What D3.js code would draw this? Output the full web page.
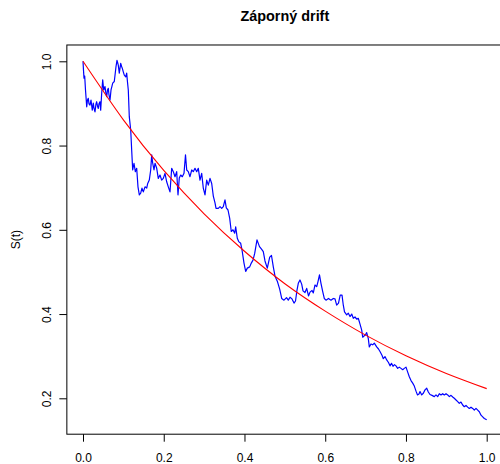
<!DOCTYPE html>
<html>
<head>
<meta charset="utf-8">
<script src="https://cdn.jsdelivr.net/npm/d3@7"></script>
<style>
  html, body { margin: 0; padding: 0; background: #fff; }
  svg { display: block; font-family: "Liberation Sans", Arial, Helvetica, sans-serif; }
</style>
</head>
<body>
<svg id="chart" width="500" height="464"></svg>
<script>
// Simulated path S(t) with negative drift
const pathT = [0,0.0012,0.0025,0.0042,0.0062,0.0092,0.0111,0.0131,0.0149,0.0173,0.0198,0.0230,0.0255,0.0272,0.0297,0.0322,0.0339,0.0359,0.0379,0.0396,
  0.0421,0.0438,0.0463,0.0488,0.0513,0.0545,0.0570,0.0587,0.0607,0.0627,0.0644,0.0669,0.0694,0.0718,0.0736,0.0775,0.0793,0.0817,0.0842,0.0860,
  0.0874,0.0899,0.0917,0.0934,0.0959,0.0978,0.0998,0.1023,0.1058,0.1082,0.1102,0.1122,0.1147,0.1182,0.1206,0.1231,0.1263,0.1296,0.1330,0.1362,
  0.1395,0.1429,0.1461,0.1494,0.1536,0.1578,0.1603,0.1642,0.1677,0.1702,0.1727,0.1759,0.1784,0.1826,0.1865,0.1907,0.1949,0.1989,0.2031,0.2073,
  0.2113,0.2155,0.2197,0.2237,0.2279,0.2321,0.2353,0.2385,0.2420,0.2460,0.2502,0.2539,0.2569,0.2608,0.2650,0.2693,0.2732,0.2774,0.2816,0.2856,
  0.2898,0.2940,0.2980,0.3022,0.3064,0.3104,0.3146,0.3188,0.3228,0.3270,0.3295,0.3351,0.3394,0.3436,0.3475,0.3517,0.3550,0.3592,0.3634,0.3673,
  0.3716,0.3758,0.3782,0.3822,0.3857,0.3906,0.3939,0.3988,0.4030,0.4070,0.4129,0.4169,0.4211,0.4253,0.4310,0.4372,0.4422,0.4466,0.4508,0.4565,
  0.4625,0.4669,0.4714,0.4756,0.4813,0.4872,0.4922,0.4979,0.5041,0.5085,0.5128,0.5177,0.5227,0.5264,0.5301,0.5333,0.5375,0.5417,0.5450,0.5499,
  0.5541,0.5586,0.5623,0.5673,0.5705,0.5747,0.5789,0.5821,0.5858,0.5895,0.5938,0.5977,0.6019,0.6081,0.6143,0.6200,0.6242,0.6284,0.6329,0.6371,
  0.6416,0.6448,0.6478,0.6532,0.6572,0.6614,0.6656,0.6696,0.6738,0.6780,0.6819,0.6862,0.6904,0.6928,0.6961,0.6993,0.7027,0.7067,0.7092,0.7134,
  0.7176,0.7216,0.7275,0.7320,0.7357,0.7406,0.7439,0.7481,0.7523,0.7567,0.7605,0.7642,0.7679,0.7716,0.7753,0.7795,0.7835,0.7877,0.7919,0.7959,
  0.8001,0.8043,0.8083,0.8125,0.8167,0.8207,0.8249,0.8286,0.8323,0.8348,0.8390,0.8430,0.8472,0.8514,0.8554,0.8596,0.8645,0.8702,0.8744,0.8786,
  0.8826,0.8868,0.8910,0.8950,0.8992,0.9034,0.9074,0.9116,0.9158,0.9197,0.9240,0.9282,0.9321,0.9363,0.9405,0.9445,0.9487,0.9529,0.9569,0.9611,
  0.9653,0.9693,0.9735,0.9777,0.9817,0.9859,0.9901,0.9941,1.0000];

const pathS = [1.000,0.979,0.960,0.965,0.932,0.892,0.908,0.912,0.899,0.896,0.908,0.884,0.901,0.889,0.880,0.899,0.904,0.894,0.888,0.899,
  0.904,0.884,0.924,0.956,0.932,0.940,0.922,0.916,0.932,0.936,0.920,0.908,0.932,0.941,0.948,0.952,0.967,0.987,1.002,0.996,
  0.991,0.972,0.984,0.995,0.987,0.982,0.975,0.967,0.963,0.972,0.951,0.932,0.868,0.837,0.789,0.742,0.758,0.738,0.746,0.702,
  0.683,0.687,0.699,0.690,0.702,0.699,0.710,0.718,0.742,0.778,0.758,0.742,0.758,0.746,0.722,0.730,0.718,0.722,0.734,0.714,
  0.702,0.690,0.746,0.738,0.726,0.738,0.683,0.723,0.730,0.726,0.734,0.778,0.742,0.738,0.726,0.742,0.738,0.746,0.738,0.746,
  0.718,0.734,0.699,0.683,0.718,0.706,0.722,0.710,0.680,0.664,0.651,0.651,0.655,0.651,0.655,0.671,0.652,0.647,0.627,0.596,
  0.600,0.592,0.607,0.580,0.572,0.568,0.552,0.521,0.501,0.509,0.512,0.521,0.528,0.544,0.576,0.560,0.554,0.548,0.526,0.509,
  0.535,0.539,0.512,0.490,0.478,0.459,0.437,0.433,0.439,0.433,0.440,0.436,0.426,0.431,0.457,0.473,0.481,0.471,0.455,0.451,
  0.461,0.443,0.452,0.456,0.450,0.469,0.465,0.477,0.493,0.473,0.453,0.437,0.433,0.437,0.433,0.437,0.436,0.421,0.426,0.445,
  0.445,0.421,0.405,0.398,0.402,0.394,0.400,0.390,0.393,0.388,0.390,0.376,0.362,0.345,0.348,0.350,0.356,0.342,0.322,0.329,
  0.327,0.331,0.322,0.317,0.311,0.302,0.294,0.299,0.291,0.285,0.277,0.283,0.276,0.280,0.277,0.271,0.274,0.271,0.268,0.271,
  0.274,0.262,0.251,0.242,0.236,0.229,0.217,0.208,0.210,0.216,0.208,0.212,0.220,0.224,0.215,0.209,0.207,0.204,0.208,0.204,
  0.211,0.208,0.211,0.208,0.211,0.208,0.204,0.207,0.203,0.200,0.196,0.192,0.188,0.191,0.184,0.180,0.183,0.179,0.176,0.179,
  0.176,0.172,0.176,0.172,0.168,0.160,0.156,0.152,0.149];

// Expected value E[S(t)]
const meanT = [0.0, 0.1, 0.2, 0.3, 0.4, 0.5, 0.6, 0.7, 0.8, 0.9, 1.0];
const meanS = [1.000, 0.861, 0.741, 0.638, 0.549, 0.472, 0.407, 0.350, 0.301, 0.259, 0.223];

const xTicks = [0.0, 0.2, 0.4, 0.6, 0.8, 1.0];
const yTicks = [0.2, 0.4, 0.6, 0.8, 1.0];

const chartTitle = "Záporný drift";
const yTitle = "S(t)";

const svg = d3.select("#chart");

const x = d3.scaleLinear().domain([0, 1]).range([83, 486.7]);
const y = d3.scaleLinear().domain([0.2, 1.0]).range([398.3, 61.3]);

// plot region extends 4% beyond the data on each side
const x0 = x(-0.04), x1 = x(1.04);
const yTop = y(1.0045 + 0.04 * 0.8555), yBot = y(0.149 - 0.04 * 0.8555);

const fmt = d3.format(".1f");

// x axis
const xAxis = d3.axisBottom(x).tickValues(xTicks).tickFormat(fmt).tickSize(7.5).tickPadding(4);
const gx = svg.append("g").attr("transform", `translate(0,${yBot})`).call(xAxis);
gx.select(".domain").remove();
gx.selectAll(".tick line").attr("stroke", "#000");
gx.selectAll(".tick text")
  .attr("font-size", 12).attr("fill", "#000")
  .attr("y", 27.4).attr("dy", null);

// y axis with rotated labels
const yAxis = d3.axisLeft(y).tickValues(yTicks).tickFormat(fmt).tickSize(7.5);
const gy = svg.append("g").attr("transform", `translate(${x0},0)`).call(yAxis);
gy.select(".domain").remove();
gy.selectAll(".tick line").attr("stroke", "#000");
gy.selectAll(".tick text")
  .attr("font-size", 12).attr("fill", "#000")
  .attr("x", null).attr("dy", null)
  .attr("text-anchor", "middle")
  .attr("transform", "translate(-16.2,0) rotate(-90)");

// frame
svg.append("rect")
  .attr("x", x0).attr("y", yTop)
  .attr("width", x1 - x0).attr("height", yBot - yTop)
  .attr("fill", "none").attr("stroke", "#000").attr("stroke-width", 1);

// clip to the plot region
svg.append("clipPath").attr("id", "plotclip")
  .append("rect").attr("x", x0).attr("y", yTop).attr("width", x1 - x0).attr("height", yBot - yTop);

const plot = svg.append("g").attr("clip-path", "url(#plotclip)");

const pathData = pathT.map((t, i) => [t, pathS[i]]);
const meanData = meanT.map((t, i) => [t, meanS[i]]);

plot.append("path")
  .datum(pathData)
  .attr("fill", "none").attr("stroke", "#0000ff").attr("stroke-width", 1.2)
  .attr("stroke-linejoin", "round")
  .attr("d", d3.line().x(d => x(d[0])).y(d => y(d[1])));

plot.append("path")
  .datum(meanData)
  .attr("fill", "none").attr("stroke", "#ff0000").attr("stroke-width", 1.1)
  .attr("d", d3.line().curve(d3.curveNatural).x(d => x(d[0])).y(d => y(d[1])));

// title
svg.append("text")
  .attr("x", (x0 + x1) / 2).attr("y", 20.5)
  .attr("text-anchor", "middle")
  .attr("font-size", 14.4).attr("font-weight", "bold")
  .text(chartTitle);

// y axis title
svg.append("text")
  .attr("transform", `translate(20,${(yTop + yBot) / 2}) rotate(-90)`)
  .attr("text-anchor", "middle")
  .attr("font-size", 12)
  .text(yTitle);
</script>
</body>
</html>
